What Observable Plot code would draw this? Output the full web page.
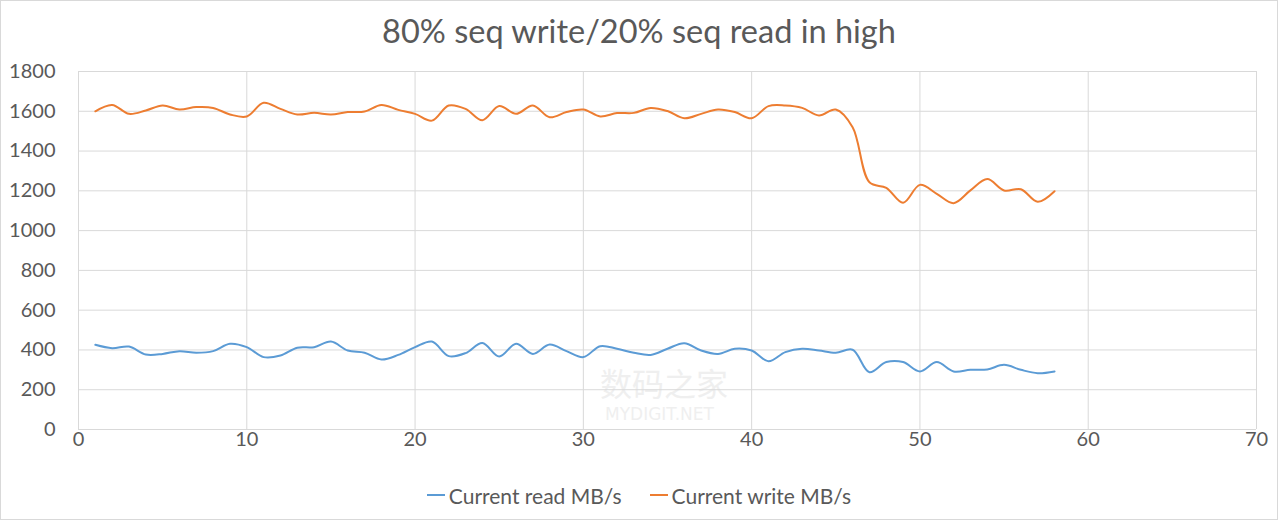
<!DOCTYPE html>
<html>
<head>
<meta charset="utf-8">
<script src="https://cdn.jsdelivr.net/npm/d3@7"></script>
<script src="https://cdn.jsdelivr.net/npm/@observablehq/plot@0.6"></script>
<style>
  html, body { margin: 0; padding: 0; background: #fff; }
  #wrap { position: relative; width: 1278px; height: 520px; overflow: hidden; font-family: Lato, "Open Sans", sans-serif; }
  #frame { position: absolute; left: 0; top: 0; width: 1278px; height: 520px; box-sizing: border-box; border: 1px solid #d9d9d9; pointer-events: none; }
  #title { position: absolute; left: 0; top: 11px; width: 1278px; text-align: center; font-size: 32.5px; color: #595959; }
  #chart { position: absolute; left: 0; top: 0; }
  #legend { position: absolute; left: 0; top: 475px; width: 1278px; text-align: center; font-size: 21px; color: #595959; }
  #legend .item { display: inline-flex; align-items: center; margin: 0 14px; }
  #legend .sw { display: inline-block; width: 18px; height: 2px; margin-right: 4px; }
  .wm { position: absolute; color: #efefef; font-family: "Noto Sans CJK SC", sans-serif; line-height: 1; }
</style>
</head>
<body>
<div id="wrap">
  <div class="wm" style="left:600px;top:366px;font-size:32px;">数码之家</div>
  <div class="wm" style="left:605px;top:406px;font-size:17px;font-family:'DejaVu Sans',sans-serif;">MYDIGIT.NET</div>
  <div id="chart"></div>
  <div id="title">80% seq write/20% seq read in high</div>
  <div id="legend"></div>
  <div id="frame"></div>
</div>
<script>
const seconds = [1,2,3,4,5,6,7,8,9,10,11,12,13,14,15,16,17,18,19,20,21,22,23,24,25,26,27,28,29,30,31,32,33,34,35,36,37,38,39,40,41,42,43,44,45,46,47,48,49,50,51,52,53,54,55,56,57,58];
const readMBs = [426,409,417,377,380,394,386,394,431,414,364,372,411,414,442,397,386,352,375,414,442,369,384,435,367,431,380,427,394,364,419,406,386,375,406,434,397,380,406,397,343,389,406,397,386,401,288,339,339,292,339,292,300,302,325,300,283,292];
const writeMBs = [1600,1632,1587,1604,1629,1609,1621,1617,1584,1574,1643,1612,1584,1592,1584,1596,1599,1632,1607,1587,1553,1629,1612,1555,1626,1587,1629,1570,1596,1609,1574,1591,1592,1617,1601,1565,1587,1609,1596,1565,1626,1629,1617,1579,1609,1520,1243,1215,1140,1230,1185,1138,1202,1259,1202,1208,1145,1198];
const seriesNames = ["Current read MB/s", "Current write MB/s"];
const seriesColors = ["#5B9BD5", "#ED7D31"];
const xTicks = [0,10,20,30,40,50,60,70];
const yTicks = [0,200,400,600,800,1000,1200,1400,1600,1800];

const rows = [];
seconds.forEach((s, i) => {
  rows.push({x: s, y: readMBs[i], series: seriesNames[0]});
  rows.push({x: s, y: writeMBs[i], series: seriesNames[1]});
});

const chart = Plot.plot({
  width: 1278,
  height: 470,
  marginTop: 71,
  marginBottom: 41,
  marginLeft: 78,
  marginRight: 22,
  style: {fontFamily: "Lato, 'Open Sans', sans-serif", fontSize: "20px", color: "#595959", background: "transparent"},
  x: {domain: [0, 70], ticks: xTicks},
  y: {domain: [0, 1800], ticks: yTicks},
  color: {domain: seriesNames, range: seriesColors},
  marks: [
    Plot.gridX(xTicks, {stroke: "#d9d9d9", strokeOpacity: 1, strokeWidth: 1}),
    Plot.gridY(yTicks, {stroke: "#d9d9d9", strokeOpacity: 1, strokeWidth: 1}),
    Plot.axisX(xTicks, {tickSize: 0, tickPadding: 2, label: null, fill: "#595959", fontSize: 20, tickFormat: d => String(d)}),
    Plot.axisY(yTicks, {tickSize: 0, tickPadding: 23, label: null, fill: "#595959", fontSize: 20, tickFormat: d => String(d)}),
    Plot.line(rows, {x: "x", y: "y", z: "series", stroke: "series", strokeWidth: 2, curve: "catmull-rom"})
  ]
});
document.getElementById("chart").appendChild(chart);

const legend = document.getElementById("legend");
seriesNames.forEach((n, i) => {
  const it = document.createElement("span");
  it.className = "item";
  const sw = document.createElement("span");
  sw.className = "sw";
  sw.style.background = seriesColors[i];
  it.appendChild(sw);
  it.appendChild(document.createTextNode(n));
  legend.appendChild(it);
});
</script>
</body>
</html>
